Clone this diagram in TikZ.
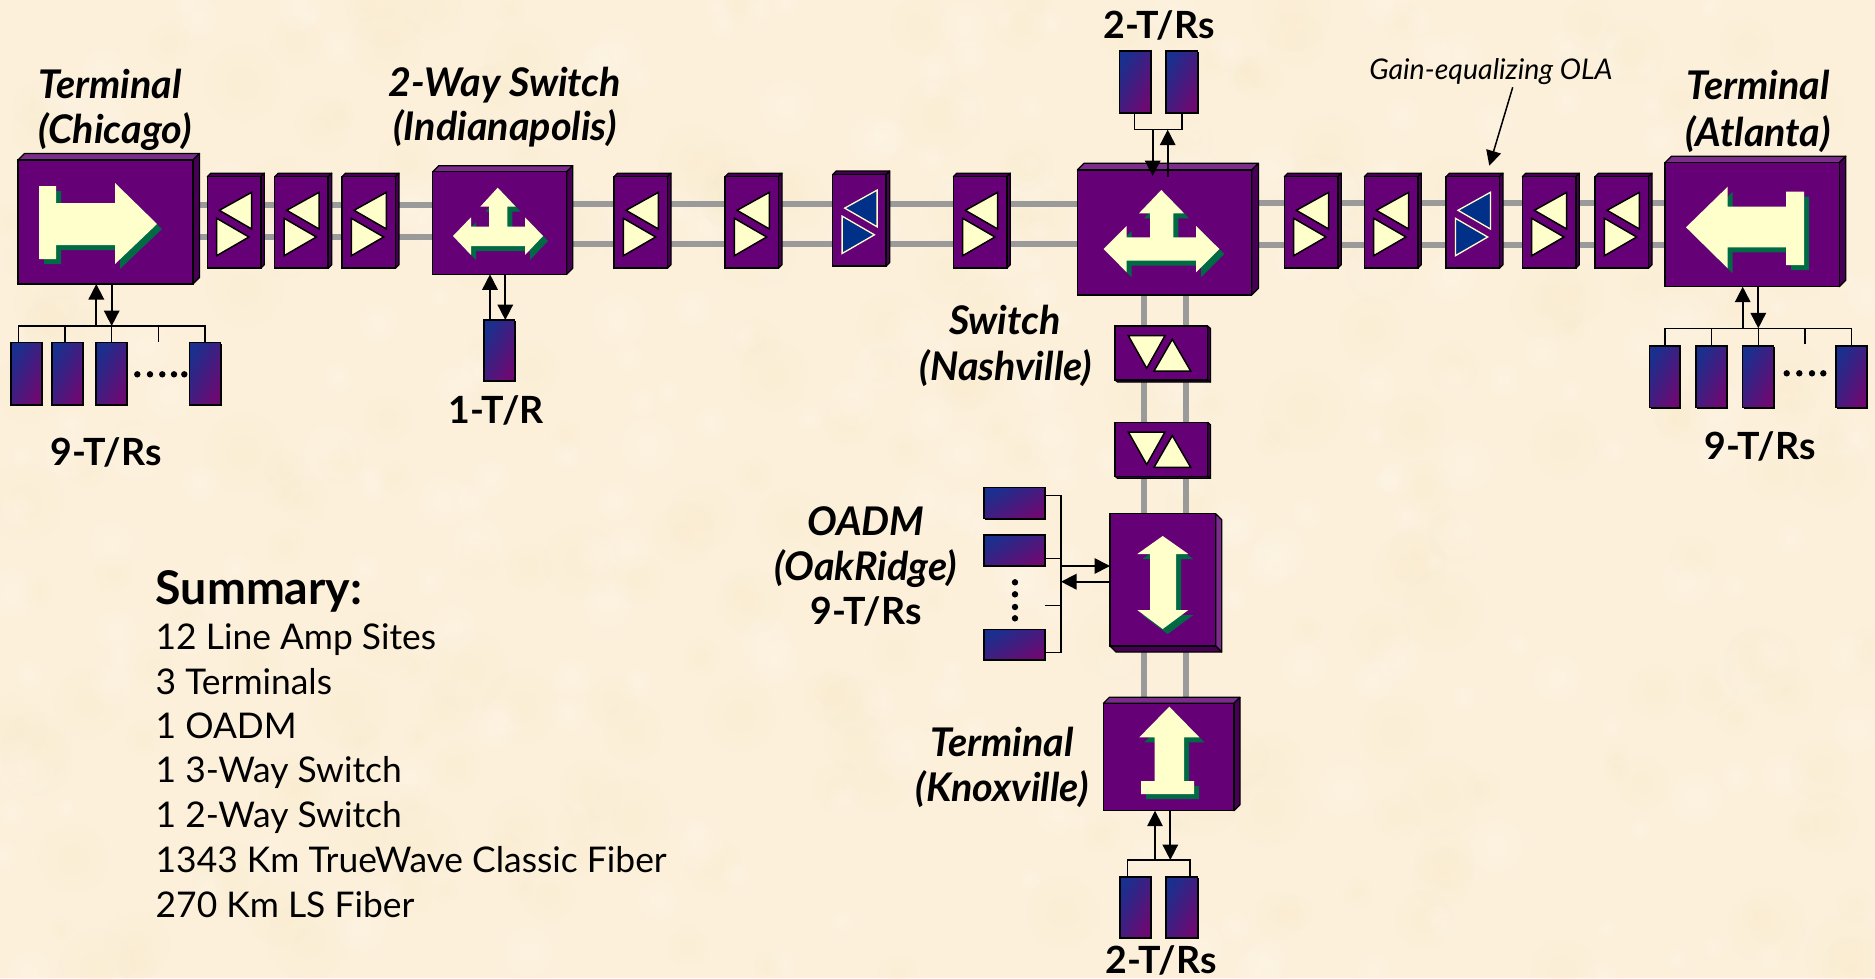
\documentclass[tikz,border=0pt]{standalone}
\usepackage{fontspec}
\setmainfont{Lato}
\usetikzlibrary{arrows.meta,shadows,fadings}
\pgfdeclarelayer{bg}
\pgfsetlayers{bg,main}
\tikzfading[name=softblob,inner color=transparent!0,outer color=transparent!100]
\definecolor{paper}{HTML}{FCF0DA}
\definecolor{paperlight}{HTML}{FFF6E8}
\definecolor{paperdark}{HTML}{F8EAC8}
\definecolor{devpurple}{HTML}{660077}
\definecolor{devlight}{HTML}{7C2C8A}
\definecolor{devdark}{HTML}{470055}
\definecolor{cream}{HTML}{FFFFCC}
\definecolor{shadowgreen}{HTML}{006A45}
\definecolor{ampblue}{HTML}{003087}
\definecolor{fibergray}{HTML}{9A9A9A}
\definecolor{trblue}{HTML}{1A2F8E}
\definecolor{trpurple}{HTML}{6C0A72}
\tikzset{
  devface/.style={draw=black,fill=devpurple,line width=1.5pt,inner sep=0pt,outer sep=0pt,rectangle},
  devside/.style={draw=black,line width=1.2pt,line join=round},
  fiber/.style={draw=fibergray,line width=6pt},
  wire/.style={draw=black,line width=1.4pt},
  biarrow/.style={draw=black,line width=1.7pt,-{Triangle[width=15.5pt,length=15.5pt]}},
  trbox/.style={rectangle,draw=black,line width=1.6pt,inner sep=0pt,outer sep=0pt,
    top color=trblue,bottom color=trpurple,shading angle=#1,
    general shadow={fill=black,shadow xshift=1.3pt,shadow yshift=-1.3pt}},
  trbox/.default=60,
  creamtri/.style={fill=cream,draw=black,line width=1.5pt,line join=miter},
  bluetri/.style={fill=ampblue,draw=cream,line width=1.3pt,line join=miter},
  lab/.style={anchor=base,inner sep=0pt,font=\fontsize{39.5}{42}\selectfont\bfseries\itshape},
  count/.style={anchor=base,inner sep=0pt,font=\fontsize{37.5}{40}\selectfont\bfseries},
  sumline/.style={anchor=base west,inner sep=0pt,font=\fontsize{35.4}{38}\selectfont},
  dotmark/.style={fill=black},
}
% big box with depth up and right: name x y w h d
\newcommand\devbox[6]{%
  \begin{scope}[shift={(#2,#3)}]
    \filldraw[devside,fill=devlight] (0,0)--(#6,-#6)--({#4+#6},-#6)--(#4,0)--cycle;
    \filldraw[devside,fill=devdark] (#4,0)--({#4+#6},-#6)--({#4+#6},{#5-#6})--(#4,#5)--cycle;
    \node[devface,minimum width={#4},minimum height={#5}] (#1) at ({#4/2},{#5/2}) {};
  \end{scope}}
% box with depth down and right
\newcommand\devboxdown[7]{%
  \begin{scope}[shift={(#2,#3)}]
    \filldraw[devside,fill=#7] (#4,0)--({#4+#6},#6)--({#4+#6},{#5+#6})--(#4,#5)--cycle;
    \filldraw[devside,fill=devdark] (0,#5)--(#6,{#5+#6})--({#4+#6},{#5+#6})--(#4,#5)--cycle;
    \node[devface,minimum width={#4},minimum height={#5}] (#1) at ({#4/2},{#5/2}) {};
  \end{scope}}
% line amplifier: name x y triangle-style
\newcommand\lineamp[4]{%
  \begin{scope}[shift={(#2,#3)}]
    \filldraw[devside,fill=devdark] (0,0)--(3.5,-3.5)--(57,-3.5)--(53.5,0)--cycle;
    \filldraw[devside,fill=devdark] (53.5,0)--(57,-3.5)--(57,88)--(53.5,91.5)--cycle;
    \node[devface,minimum width=53.5,minimum height=91.5] (#1) at (26.75,45.75) {};
    \filldraw[#4] (12,33.6)--(44.4,15.6)--(44.4,52.3)--cycle;
    \filldraw[#4] (9.4,41.6)--(9.4,79)--(41.7,60.3)--cycle;
  \end{scope}}
% T/R unit: name x1 y1 x2 y2 (tall) and its lying form
\newcommand\trunit[5]{%
  \node[trbox,minimum width={#4-#2},minimum height={#5-#3}] (#1) at ({(#2+#4)/2},{(#3+#5)/2}) {};}
\newcommand\trunitwide[5]{%
  \node[trbox=30,minimum width={#4-#2},minimum height={#5-#3}] (#1) at ({(#2+#4)/2},{(#3+#5)/2}) {};}
% icon with green drop shadow
\newcommand\icon[1]{%
  \fill[shadowgreen,shift={(5,5)}] #1;
  \fill[cream] #1;}
\newcommand\seamp[3]{%
  \begin{scope}[shift={(#2,#3)}]
    \filldraw[devside,fill=devdark] (92.7,0)--(95.5,2.5)--(95.5,56)--(92.7,54)--cycle;
    \filldraw[devside,fill=devdark] (0,54)--(2.5,56)--(95.5,56)--(92.7,54)--cycle;
    \node[devface,minimum width=92.7,minimum height=54] (#1) at (46.35,27) {};
    \filldraw[creamtri] (13.3,9.7)--(50,9.7)--(31.7,42.3)--cycle;
    \filldraw[creamtri] (57.3,13.3)--(75.7,45)--(39,45)--cycle;
  \end{scope}}
\begin{document}
\begin{tikzpicture}[x=1pt,y=-1pt]
\useasboundingbox (0,0) rectangle (1875,978);
\begin{pgfonlayer}{bg}
\fill[paper] (0,0) rectangle (1875,978);
\begin{scope}
\clip (0,0) rectangle (1875,978);
\pgfmathsetseed{11}
\foreach \i in {1,...,260}{
  \pgfmathsetmacro\bx{rnd*1875}
  \pgfmathsetmacro\by{rnd*978}
  \pgfmathsetmacro\br{12+rnd*30}
  \fill[paperlight,opacity=0.45,path fading=softblob] (\bx,\by) circle (\br);
  \pgfmathsetmacro\bx{rnd*1875}
  \pgfmathsetmacro\by{rnd*978}
  \pgfmathsetmacro\br{12+rnd*30}
  \fill[paperdark,opacity=0.3,path fading=softblob] (\bx,\by) circle (\br);
}
\end{scope}
\end{pgfonlayer}

% ---- devices ----
\devbox{chi}{18}{160}{175}{124}{6.5}
\icon{(39,186)--(56,186)--(56,203)--(115,203)--(115,183)--(157,224)--(115,264)--(115,245)--(56,245)--(56,259)--(39,259)--cycle}
\lineamp{a1}{207.3}{176.7}{creamtri}
\lineamp{a2}{274.7}{176.7}{creamtri}
\lineamp{a3}{342}{176.7}{creamtri}
\devbox{ind}{432.7}{171.7}{134}{102.6}{6}
\icon{(497.7,187.7)--(515.7,206.7)--(507.3,206.7)--(507.3,226.7)--(525,226.7)--(525,217.3)--(543,236)--(525,255)--(525,246)--(471,246)--(471,255)--(453,236)--(471,217.3)--(471,226.7)--(489,226.7)--(489,206.7)--(480.3,206.7)--cycle}
\lineamp{a4}{614}{176.7}{creamtri}
\lineamp{a5}{725}{176.7}{creamtri}
\lineamp{b1}{832.7}{174.5}{bluetri}
\lineamp{a6}{953.3}{176.7}{creamtri}
\devbox{swn}{1077.3}{170}{174.4}{125}{6.7}
\icon{(1161.3,190)--(1184,213.3)--(1173.3,213.3)--(1173.3,237.3)--(1196,237.3)--(1196,226)--(1219.3,249)--(1196,272.3)--(1196,260.7)--(1126.7,260.7)--(1126.7,272.3)--(1103.7,249)--(1126.7,226)--(1126.7,237.3)--(1150,237.3)--(1150,213.3)--(1139,213.3)--cycle}
\lineamp{a7}{1284.3}{176.7}{creamtri}
\lineamp{a8}{1364.3}{176.7}{creamtri}
\lineamp{b2}{1446}{176.7}{bluetri}
\lineamp{a9}{1522.3}{176.7}{creamtri}
\lineamp{a10}{1595}{176.7}{creamtri}
\devbox{atl}{1665}{162.7}{174.3}{124}{6.5}
\icon{(1686,227.3)--(1727.7,186.7)--(1727.7,206.7)--(1786,206.7)--(1786,191.7)--(1804,191.7)--(1804,265)--(1786,265)--(1786,247.3)--(1727.7,247.3)--(1727.7,268.3)--cycle}
\seamp{s1}{1115}{326}
\seamp{s2}{1115}{422.3}
\devboxdown{oad}{1110}{513.7}{105.7}{132.3}{6}{devlight}
\icon{(1162.7,536)--(1188.3,554)--(1176,554)--(1176,610)--(1188.3,610)--(1162.7,629)--(1137.3,610)--(1150,610)--(1150,554)--(1137.3,554)--cycle}
\devbox{kno}{1103.3}{703.3}{130.7}{107.4}{6}
\icon{(1169.3,706.7)--(1199.3,737.3)--(1184,737.3)--(1184,781)--(1194,781)--(1194,794)--(1141,794)--(1141,781)--(1154.7,781)--(1154.7,737.3)--(1139.3,737.3)--cycle}

% ---- fibres, behind the devices ----
\begin{pgfonlayer}{bg}
\foreach \p/\q in {chi/a1,a1/a2,a2/a3,a3/ind}{
  \draw[fiber] (\p.east |- 0,205) -- (\q.west |- 0,205);
  \draw[fiber] (\p.east |- 0,237) -- (\q.west |- 0,237);}
\foreach \p/\q in {ind/a4,a4/a5,a5/b1,b1/a6,a6/swn}{
  \draw[fiber] (\p.east |- 0,204) -- (\q.west |- 0,204);
  \draw[fiber] (\p.east |- 0,243.5) -- (\q.west |- 0,243.5);}
\foreach \p/\q in {swn/a7,a7/a8,a8/b2,b2/a9,a9/a10,a10/atl}{
  \draw[fiber] (\p.east |- 0,202.7) -- (\q.west |- 0,202.7);
  \draw[fiber] (\p.east |- 0,244.7) -- (\q.west |- 0,244.7);}
\foreach \p/\q in {swn/s1,s1/s2,s2/oad,oad/kno}{
  \draw[fiber] (\p.south -| 1144.3,0) -- (\q.north -| 1144.3,0);
  \draw[fiber] (\p.south -| 1186,0) -- (\q.north -| 1186,0);}
\end{pgfonlayer}

% ---- Chicago T/Rs ----
\trunit{ct1}{10.7}{342.3}{41.7}{405}
\trunit{ct2}{52}{342.3}{82.7}{405}
\trunit{ct3}{96}{342.3}{127}{405}
\trunit{ct4}{189.3}{342.3}{220.3}{405}
\coordinate (cbL) at (18.3,326);
\coordinate (cbR) at (205,326);
\coordinate (cstub) at (158.3,341.7);
\draw[wire] (ct1.north -| cbL) -- (cbL) -- (cbR) -- (ct4.north -| cbR);
\draw[wire] (ct2.north -| 65,0) -- (cbL -| 65,0);
\draw[wire] (ct3.north -| 111.7,0) -- (cbL -| 111.7,0);
\draw[wire] (cstub) -- (cbL -| cstub);
\draw[biarrow] (cbL -| 96.3,0) -- (chi.south -| 96.3,0);
\draw[biarrow] (chi.south -| 111.7,0) -- (cbL -| 111.7,0);
\foreach \x in {137.3,150,162.3,174,184.3}{\fill[dotmark] (\x,374.3) circle (3.2);}

% ---- Indianapolis T/R ----
\trunit{it1}{484}{320}{514.3}{381}
\draw[biarrow] (it1.north -| 490,0) -- (ind.south -| 490,0);
\draw[biarrow] (ind.south -| 505.3,0) -- (it1.north -| 505.3,0);

% ---- Nashville top T/Rs ----
\trunit{nt1}{1119.3}{50.7}{1150.7}{112.7}
\trunit{nt2}{1165.7}{50.7}{1197.3}{112.7}
\coordinate (nbL) at (1134.7,129.7);
\coordinate (nbR) at (1182,129.7);
\draw[wire] (nt1.south -| nbL) -- (nbL) -- (nbR) -- (nt2.south -| nbR);
\coordinate (ninD) at (1152.7,176);
\coordinate (ninU) at (1167.7,177);
\draw[biarrow] (nbL -| ninD) -- (ninD);
\draw[biarrow] (ninU) -- (nbL -| ninU);

% ---- Atlanta T/Rs ----
\trunit{at1}{1649.3}{346}{1680}{407.3}
\trunit{at2}{1695.7}{346}{1726.7}{407.3}
\trunit{at3}{1742.3}{346}{1773.3}{407.3}
\trunit{at4}{1835.7}{346}{1866.7}{407.3}
\coordinate (abL) at (1665,328.3);
\coordinate (abR) at (1851.3,328.3);
\coordinate (astub) at (1805,344.3);
\draw[wire] (at1.north -| abL) -- (abL) -- (abR) -- (at4.north -| abR);
\draw[wire] (at2.north) -- (at2.north |- abL);
\draw[wire] (at3.north -| 1758.3,0) -- (abL -| 1758.3,0);
\draw[wire] (astub) -- (abL -| astub);
\draw[biarrow] (abL -| 1742.7,0) -- (atl.south -| 1742.7,0);
\draw[biarrow] (atl.south -| 1758.3,0) -- (abL -| 1758.3,0);
\foreach \x in {1786.7,1799.3,1812,1823.3}{\fill[dotmark] (\x,373.3) circle (3.2);}

% ---- OakRidge T/Rs ----
\trunitwide{ot1}{984}{487.3}{1045}{518.3}
\trunitwide{ot2}{984}{535}{1045}{565.7}
\trunitwide{ot3}{984}{629.3}{1045}{660}
\coordinate (obT) at (1061,495.7);
\coordinate (obB) at (1061,652.3);
\coordinate (ostub) at (1045,605.7);
\draw[wire] (ot1.east |- obT) -- (obT) -- (obB) -- (ot3.east |- obB);
\draw[wire] (ot2.east |- 0,558.3) -- (obT |- 0,558.3);
\draw[wire] (ostub) -- (obT |- ostub);
\draw[biarrow] (obT |- 0,566) -- (oad.west |- 0,566);
\draw[biarrow] (oad.west |- 0,581.7) -- (obT |- 0,581.7);
\foreach \y in {582.3,594.3,607,618.3}{\fill[dotmark] (1015,\y) circle (3.2);}

% ---- Knoxville T/Rs ----
\trunit{kt1}{1120}{876.7}{1151}{937.7}
\trunit{kt2}{1166}{876.7}{1197.3}{937.7}
\coordinate (kbL) at (1127.7,860);
\coordinate (kbR) at (1190,860);
\draw[wire] (kt1.north -| kbL) -- (kbL) -- (kbR) -- (kt2.north -| kbR);
\draw[biarrow] (kbL -| 1155,0) -- (kno.south -| 1155,0);
\draw[biarrow] (kno.south -| 1170.3,0) -- (kbL -| 1170.3,0);

% ---- Gain OLA pointer ----
\coordinate (gainfrom) at (1512.7,87.3);
\coordinate (gainto) at (1489.3,165.7);
\draw[draw=black,line width=1.5pt,-{Triangle[width=15pt,length=15pt]}] (gainfrom) -- (gainto);

% ---- labels ----
\node[lab] (l1) at (110,98) {Terminal};
\node[lab] (l2) at (115,143) {(Chicago)};
\node[lab] (l3) at (505,96) {2-Way Switch};
\node[lab] (l4) at (505,140) {(Indianapolis)};
\node[count] (l5) at (1159,38) {2-T/Rs};
\node[anchor=base,inner sep=0pt,font=\fontsize{28.5}{30}\selectfont\itshape] (l6) at (1491,79) {Gain-equalizing OLA};
\node[lab] (l7) at (1758,99) {Terminal};
\node[lab] (l8) at (1758,146) {(Atlanta)};
\node[count] (l9) at (106,465) {9-T/Rs};
\node[count] (l10) at (496,423) {1-T/R};
\node[count] (l11) at (1760,459) {9-T/Rs};
\node[lab] (l12) at (1005,334) {Switch};
\node[lab] (l13) at (1006,380) {(Nashville)};
\node[lab] (l14) at (866,535) {OADM};
\node[lab] (l15) at (866,580) {(OakRidge)};
\node[count] (l16) at (866,624) {9-T/Rs};
\node[lab] (l17) at (1002,756) {Terminal};
\node[lab] (l18) at (1002,801) {(Knoxville)};
\node[count] (l19) at (1161,973) {2-T/Rs};

\node[sumline,font=\fontsize{46.5}{48}\selectfont\bfseries] (s0) at (155.5,604) {Summary:};
\node[sumline] (s1t) at (155.5,649) {12 Line Amp Sites};
\node[sumline] (s2t) at (155.5,694) {3 Terminals};
\node[sumline] (s3t) at (155.5,738) {1 OADM};
\node[sumline] (s4t) at (155.5,782) {1 3-Way Switch};
\node[sumline] (s5t) at (155.5,827) {1 2-Way Switch};
\node[sumline] (s6t) at (155.5,872) {1343 Km TrueWave Classic Fiber};
\node[sumline] (s7t) at (155.5,917) {270 Km LS Fiber};
\end{tikzpicture}
\end{document}
